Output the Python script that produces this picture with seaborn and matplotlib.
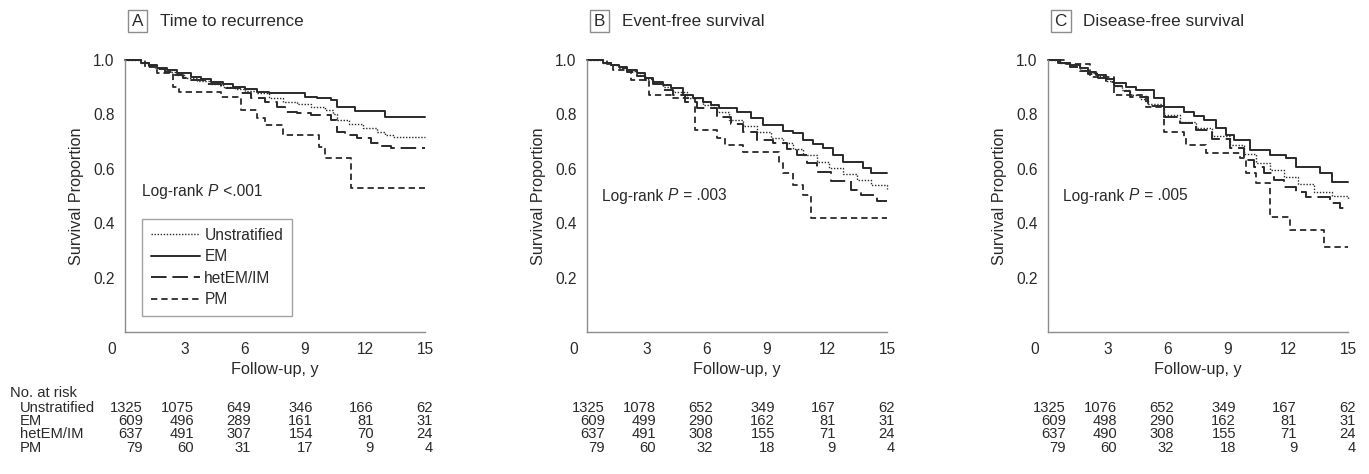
import numpy as np
import pandas as pd
import matplotlib
matplotlib.use("Agg")
import matplotlib.pyplot as plt
import matplotlib.transforms as mtrans
import seaborn as sns

sns.set_theme(style="white")
plt.rcParams['font.family'] = ['Liberation Sans', 'DejaVu Sans']

# ---------------- data ----------------
panel_letters = ["A", "B", "C"]
panel_titles = ["Time to recurrence", "Event-free survival", "Disease-free survival"]
pvalue_texts = [("Log-rank ", "P", " <.001"), ("Log-rank ", "P", " = .003"), ("Log-rank ", "P", " = .005")]
groups = ["Unstratified", "EM", "hetEM/IM", "PM"]
risk_times = [0, 3, 6, 9, 12, 15]

# Panel A - Time to recurrence (time, survival) step points
a_unstrat_t = [0, 0.8, 1.2, 1.5, 1.9, 2.2, 2.6, 3.0, 3.6, 4.3, 4.9, 5.5, 6.0, 6.6, 7.2, 7.9, 8.6, 9.3, 10.0, 10.4, 10.6, 11.2, 11.9, 12.6, 13.0, 13.4, 15]
a_unstrat_s = [1.0, 0.99, 0.98, 0.972, 0.963, 0.955, 0.945, 0.935, 0.922, 0.91, 0.90, 0.893, 0.885, 0.877, 0.862, 0.847, 0.838, 0.828, 0.815, 0.80, 0.779, 0.765, 0.749, 0.735, 0.725, 0.716, 0.716]
a_em_t = [0, 0.8, 1.2, 1.6, 2.1, 2.6, 3.3, 3.8, 4.3, 4.9, 5.4, 6.0, 6.6, 7.2, 7.9, 9.0, 9.6, 10.3, 10.6, 11.5, 13.0, 15]
a_em_s = [1.0, 0.99, 0.982, 0.972, 0.962, 0.951, 0.939, 0.93, 0.920, 0.91, 0.902, 0.893, 0.884, 0.88, 0.877, 0.865, 0.86, 0.853, 0.828, 0.814, 0.792, 0.792]
a_het_t = [0, 0.8, 1.2, 1.6, 2.0, 2.4, 2.9, 3.3, 4.0, 4.8, 5.8, 6.3, 7.0, 7.6, 8.0, 8.6, 9.3, 10.3, 10.6, 11.0, 11.6, 12.3, 12.8, 13.3, 15]
a_het_s = [1.0, 0.99, 0.978, 0.968, 0.955, 0.945, 0.935, 0.925, 0.91, 0.896, 0.877, 0.859, 0.845, 0.828, 0.810, 0.805, 0.798, 0.779, 0.737, 0.725, 0.712, 0.694, 0.685, 0.675, 0.675]
a_pm_t = [0, 1.0, 1.6, 2.4, 2.7, 4.8, 5.8, 6.6, 7.0, 7.9, 9.7, 10.0, 11.3, 15]
a_pm_s = [1.0, 0.975, 0.951, 0.902, 0.884, 0.865, 0.816, 0.786, 0.761, 0.724, 0.681, 0.638, 0.531, 0.531]

# Panel B - Event-free survival
b_unstrat_t = [0, 0.8, 1.2, 1.6, 2.0, 2.5, 2.9, 3.3, 3.8, 4.3, 5.0, 5.8, 6.5, 7.1, 7.8, 8.5, 9.2, 9.8, 10.3, 10.8, 11.5, 12.1, 12.8, 13.5, 14.2, 15]
b_unstrat_s = [1.0, 0.99, 0.98, 0.97, 0.958, 0.945, 0.93, 0.915, 0.90, 0.884, 0.86, 0.835, 0.807, 0.779, 0.758, 0.737, 0.715, 0.694, 0.672, 0.651, 0.626, 0.602, 0.58, 0.559, 0.54, 0.525]
b_em_t = [0, 0.8, 1.2, 1.6, 2.0, 2.5, 2.9, 3.3, 3.8, 4.2, 4.8, 5.3, 5.8, 6.2, 6.6, 7.5, 8.2, 8.8, 9.8, 10.3, 10.8, 11.3, 11.8, 12.3, 12.8, 13.8, 14.2, 15]
b_em_s = [1.0, 0.99, 0.983, 0.975, 0.963, 0.951, 0.935, 0.920, 0.908, 0.896, 0.871, 0.86, 0.847, 0.835, 0.822, 0.810, 0.786, 0.761, 0.740, 0.730, 0.706, 0.69, 0.675, 0.65, 0.626, 0.602, 0.583, 0.583]
b_het_t = [0, 0.8, 1.2, 1.6, 2.0, 2.5, 2.9, 3.3, 3.8, 4.3, 4.9, 5.5, 6.5, 7.2, 7.8, 8.5, 9.3, 10.0, 10.5, 11.0, 11.5, 12.2, 13.2, 13.7, 14.5, 15]
b_het_s = [1.0, 0.99, 0.98, 0.97, 0.955, 0.94, 0.925, 0.91, 0.89, 0.871, 0.845, 0.822, 0.791, 0.765, 0.737, 0.706, 0.694, 0.672, 0.651, 0.62, 0.590, 0.554, 0.523, 0.505, 0.482, 0.482]
b_pm_t = [0, 1.0, 1.3, 2.2, 3.1, 4.3, 5.4, 6.5, 6.9, 7.8, 9.6, 9.8, 10.3, 10.8, 11.2, 15]
b_pm_s = [1.0, 0.985, 0.963, 0.926, 0.871, 0.859, 0.743, 0.712, 0.688, 0.663, 0.620, 0.583, 0.540, 0.505, 0.418, 0.418]

# Panel C - Disease-free survival
c_unstrat_t = [0, 0.6, 1.1, 1.6, 2.0, 2.5, 2.9, 3.3, 3.7, 4.1, 4.6, 5.0, 5.8, 6.6, 7.4, 8.2, 9.1, 9.8, 10.4, 11.1, 11.8, 12.5, 13.3, 14.2, 15]
c_unstrat_s = [1.0, 0.99, 0.978, 0.965, 0.953, 0.94, 0.922, 0.905, 0.888, 0.871, 0.855, 0.84, 0.798, 0.773, 0.749, 0.72, 0.688, 0.654, 0.620, 0.596, 0.571, 0.545, 0.516, 0.50, 0.488]
c_em_t = [0, 0.5, 1.1, 1.6, 2.0, 2.4, 2.9, 3.3, 3.9, 4.4, 5.3, 5.8, 6.8, 7.3, 7.8, 8.4, 8.9, 9.3, 10.1, 11.1, 11.9, 12.4, 13.6, 14.2, 15]
c_em_s = [1.0, 0.99, 0.98, 0.969, 0.957, 0.945, 0.93, 0.914, 0.90, 0.890, 0.859, 0.828, 0.810, 0.795, 0.779, 0.749, 0.725, 0.706, 0.669, 0.651, 0.638, 0.608, 0.583, 0.553, 0.553]
c_het_t = [0, 0.6, 1.1, 1.6, 2.0, 2.5, 2.9, 3.3, 3.7, 4.1, 5.0, 5.8, 6.6, 7.4, 8.2, 9.1, 9.8, 10.3, 10.8, 11.3, 11.8, 12.4, 12.9, 14.1, 14.6, 15]
c_het_s = [1.0, 0.99, 0.975, 0.96, 0.948, 0.935, 0.92, 0.905, 0.885, 0.865, 0.83, 0.792, 0.768, 0.743, 0.71, 0.675, 0.632, 0.607, 0.583, 0.558, 0.534, 0.515, 0.497, 0.473, 0.455, 0.455]
c_pm_t = [0, 0.9, 2.1, 3.3, 4.9, 5.8, 6.8, 6.9, 7.9, 9.6, 9.9, 10.4, 11.1, 12.1, 13.8, 15]
c_pm_s = [1.0, 0.985, 0.939, 0.871, 0.828, 0.737, 0.718, 0.688, 0.657, 0.638, 0.583, 0.546, 0.424, 0.375, 0.314, 0.314]

# Numbers at risk
a_risk = {"Unstratified": [1325, 1075, 649, 346, 166, 62], "EM": [609, 496, 289, 161, 81, 31],
          "hetEM/IM": [637, 491, 307, 154, 70, 24], "PM": [79, 60, 31, 17, 9, 4]}
b_risk = {"Unstratified": [1325, 1078, 652, 349, 167, 62], "EM": [609, 499, 290, 162, 81, 31],
          "hetEM/IM": [637, 491, 308, 155, 71, 24], "PM": [79, 60, 32, 18, 9, 4]}
c_risk = {"Unstratified": [1325, 1076, 652, 349, 167, 62], "EM": [609, 498, 290, 162, 81, 31],
          "hetEM/IM": [637, 490, 308, 155, 71, 24], "PM": [79, 60, 32, 18, 9, 4]}

panels = [
    {"Unstratified": (a_unstrat_t, a_unstrat_s), "EM": (a_em_t, a_em_s), "hetEM/IM": (a_het_t, a_het_s), "PM": (a_pm_t, a_pm_s)},
    {"Unstratified": (b_unstrat_t, b_unstrat_s), "EM": (b_em_t, b_em_s), "hetEM/IM": (b_het_t, b_het_s), "PM": (b_pm_t, b_pm_s)},
    {"Unstratified": (c_unstrat_t, c_unstrat_s), "EM": (c_em_t, c_em_s), "hetEM/IM": (c_het_t, c_het_s), "PM": (c_pm_t, c_pm_s)},
]
risks = [a_risk, b_risk, c_risk]

# ---------------- style ----------------
INK = "#2a2a2a"
AXC = "#8c8c8c"
FS = 11.2
TFS = 12.3
TBL = 10.6
styles = {
    "Unstratified": dict(lw=1.0, dashes=(1, 1.2)),
    "EM": dict(lw=1.4, dashes=None),
    "hetEM/IM": dict(lw=1.4, dashes=(8, 3)),
    "PM": dict(lw=1.3, dashes=(3.5, 2.2)),
}
col_offsets = [0.9, 0.45, 0.3, 0.4, 0.45, 0.4]  # right-edge offsets of risk numbers (years)

W, H = 1369, 474
fig = plt.figure(figsize=(W / 100, H / 100), dpi=100)
lefts = [125, 587, 1048]
ax_w, ax_top, ax_bot = 300, 60, 332

row_y = [408, 421, 434, 448]

for i, left in enumerate(lefts):
    ax = fig.add_axes([left / W, 1 - ax_bot / H, ax_w / W, (ax_bot - ax_top) / H])
    for g in groups:
        t, s = panels[i][g]
        df = pd.DataFrame({"t": t, "s": s})
        sns.lineplot(data=df, x="t", y="s", ax=ax, drawstyle="steps-post", color=INK,
                     lw=styles[g]["lw"], estimator=None, sort=False, label=g, legend=False)
        ln = ax.lines[-1]
        if styles[g]["dashes"] is not None:
            ln.set_dashes(styles[g]["dashes"])
        ln.set_clip_on(False)

    ax.set_xlim(0, 15)
    ax.set_ylim(0, 1.0)
    ax.set_xticks(risk_times)
    ax.set_yticks([0, 0.2, 0.4, 0.6, 0.8, 1.0])
    ax.set_yticklabels(["", "0.2", "0.4", "0.6", "0.8", "1.0"])
    ax.set_xticklabels([str(v) for v in risk_times])
    for sp in ["top", "right"]:
        ax.spines[sp].set_visible(False)
    for sp in ["left", "bottom"]:
        ax.spines[sp].set_color(AXC)
        ax.spines[sp].set_linewidth(1.0)
    ax.tick_params(axis="both", direction="out", length=5, width=1.0, color=AXC,
                   labelsize=FS, labelcolor=INK, pad=2.5)
    ax.tick_params(axis="x", pad=2.5)
    ax.grid(False)
    lab0 = ax.get_xticklabels()[0]
    lab0.set_transform(lab0.get_transform() + mtrans.ScaledTranslation(-13 / 100, 0, fig.dpi_scale_trans))

    ax.set_xlabel("Follow-up, y", fontsize=FS + 0.5, color=INK)
    ax.xaxis.set_label_coords(0.5, (ax_bot - 362) / (ax_bot - ax_top))
    ax.set_ylabel("Survival Proportion", fontsize=FS + 0.5, color=INK)
    ax.yaxis.set_label_coords((84 - 125) / ax_w, 0.5)

    # panel title
    ax.text(0.042, 1.143, panel_letters[i], transform=ax.transAxes, ha="center", va="center",
            fontsize=TFS, color=INK,
            bbox=dict(boxstyle="square,pad=0.22", fc="white", ec=AXC, lw=1.0))
    ax.text(0.117, 1.143, panel_titles[i], transform=ax.transAxes, ha="left", va="center",
            fontsize=TFS, color=INK)

    # log-rank text
    p1, p2, p3 = pvalue_texts[i]
    t0 = ax.text(0.85 if i == 0 else 0.75, 0.515 if i == 0 else 0.5, p1, transform=ax.transData,
                 ha="left", va="center", fontsize=FS, color=INK)
    fig.canvas.draw()
    rend = fig.canvas.get_renderer()
    bb = t0.get_window_extent(renderer=rend)
    ymid = (bb.y0 + bb.y1) / 2 / H
    t1 = fig.text(bb.x1 / W, ymid, p2, ha="left", va="center", fontsize=FS, color=INK, style="italic")
    bb1 = t1.get_window_extent(renderer=rend)
    fig.text((bb1.x1 + 1) / W, ymid, p3, ha="left", va="center", fontsize=FS, color=INK)

    if i == 0:
        leg = ax.legend(loc="lower left", bbox_to_anchor=(0.057, 0.059), frameon=True, fancybox=False,
                        edgecolor=AXC, fontsize=FS, handlelength=3.15, handletextpad=0.3,
                        labelspacing=0.42, borderpad=0.55, borderaxespad=0.0, labelcolor=INK)
        leg.get_frame().set_linewidth(1.0)

    trans = mtrans.blended_transform_factory(ax.transData, fig.transFigure)
    for r, g in enumerate(groups):
        for j, tt in enumerate(risk_times):
            ax.text(tt + col_offsets[j], 1 - row_y[r] / H, str(risks[i][g][j]), transform=trans,
                    ha="right", va="center", fontsize=TBL, color=INK, clip_on=False)

fig.text(10 / W, 1 - 393 / H, "No. at risk", ha="left", va="center", fontsize=TBL, color=INK)
for r, g in enumerate(groups):
    fig.text(20 / W, 1 - row_y[r] / H, g, ha="left", va="center", fontsize=TBL, color=INK)

fig.savefig("out.png", dpi=100, facecolor="white")
